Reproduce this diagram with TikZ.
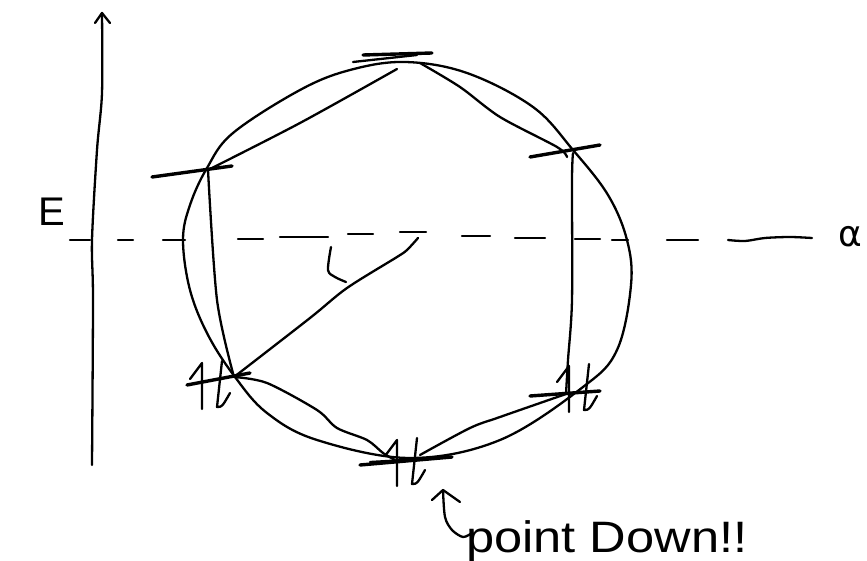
\documentclass[tikz,border=0pt]{standalone}
\usepackage{fontspec}
\setmainfont{Liberation Sans}
\newfontfamily\symfont{DejaVu Sans}
\begin{document}
\begin{tikzpicture}[x=1pt,y=-1pt,line cap=round,line join=round,
  stroke/.style={line width=2.3pt},
  orbital/.style={line width=3.4pt},
  epair/.pic={
    \draw[stroke] (-12,-6) .. controls (-6,-14) .. (0,-22) -- (0,24);
    \draw[stroke] (20,-24) -- (15,22) .. controls (20,22) .. (28,8);
  }]
\useasboundingbox (0,0) rectangle (867,561);
% energy axis
\draw[stroke] plot[smooth] coordinates {(92,465) (93,300) (92,240) (97,150) (102,93) (102,13)};
\draw[stroke] (95,23) -- (102,13) -- (110,23);
\node[font=\fontsize{40}{40}\selectfont] (E) at (52,212) {E};
% dashed alpha line
\foreach \a/\b/\y in {70/90/240, 118/133/240, 163/185/240, 238/263/239, 280/328/237, 348/373/234, 400/426/232, 462/490/236, 515/545/238, 575/600/239, 612/628/240, 667/698/240}
  \draw[stroke] (\a,\y) -- (\b,\y);
\draw[stroke] plot[smooth] coordinates {(728,240) (745,241) (765,238) (790,237) (812,238)};
\node[font=\fontsize{36}{36}\selectfont,inner sep=0pt] (alpha) at (850,237) {\symfont α};
% circle
\draw[stroke] plot[smooth cycle,tension=0.6] coordinates {(405,62) (467,73) (533,107) (573,150) (608,195) (627,240) (631,285) (617,350) (583,387) (500,440) (410,458) (317,440) (267,413) (235,377) (208,335) (190,290) (183,240) (190,205) (207,168) (233,133) (300,90) (350,70)};
% hexagon vertices
\coordinate (T) at (405,60);
\coordinate (UL) at (208,170);
\coordinate (UR) at (570,152);
\coordinate (LL) at (234,377);
\coordinate (LR) at (566,394);
\coordinate (B) at (410,460);
% hexagon edges
\draw[stroke] plot[smooth] coordinates {(397,69) (300,123) (UL)};
\draw[stroke] plot[smooth] coordinates {(420,63) (460,87) (500,117) (557,147) (567,157)};
\draw[stroke] plot[smooth] coordinates {(573,153) (572,180) (572,300) (568,360) (LR)};
\draw[stroke] plot[smooth] coordinates {(UL) (217,300) (LL)};
\draw[stroke] plot[smooth] coordinates {(LL) (267,383) (317,410) (337,428) (367,440) (383,453) (395,460)};
\draw[stroke] plot[smooth] coordinates {(420,455) (470,428) (500,417) (LR)};
% radius line and mark
\draw[stroke] plot[smooth] coordinates {(418,238) (407,250) (397,257) (347,288) (310,318) (LL)};
\draw[stroke] plot[smooth] coordinates {(331,247) (328,270) (335,277) (346,282)};
% orbital levels
\draw[orbital] (363,55) -- (432,53);
\draw[stroke] (353,62) -- (417,55);
\draw[orbital] (152,177) -- (232,166);
\draw[orbital] (530,157) -- (600,145);
\draw[orbital] (187,385) -- (250,373);
\draw[orbital] (360,465) -- (452,457);
\draw[stroke] (370,462) -- (440,458);
\draw[orbital] (530,396) -- (600,391);
% electron pairs
\pic at (202,385) {epair};
\pic at (397,462) {epair};
\pic at (569,388) {epair};
% annotation
\draw[stroke] (432,500) -- (443,490) -- (460,502);
\draw[stroke] plot[smooth] coordinates {(443,490) (445,517) (452,530) (463,537) (472,533)};
\node[anchor=base west,inner sep=0pt,font=\fontsize{44}{44}\selectfont] (note) at (466,552) {\scalebox{1.15}[1]{point Down!!}};
\end{tikzpicture}
\end{document}
